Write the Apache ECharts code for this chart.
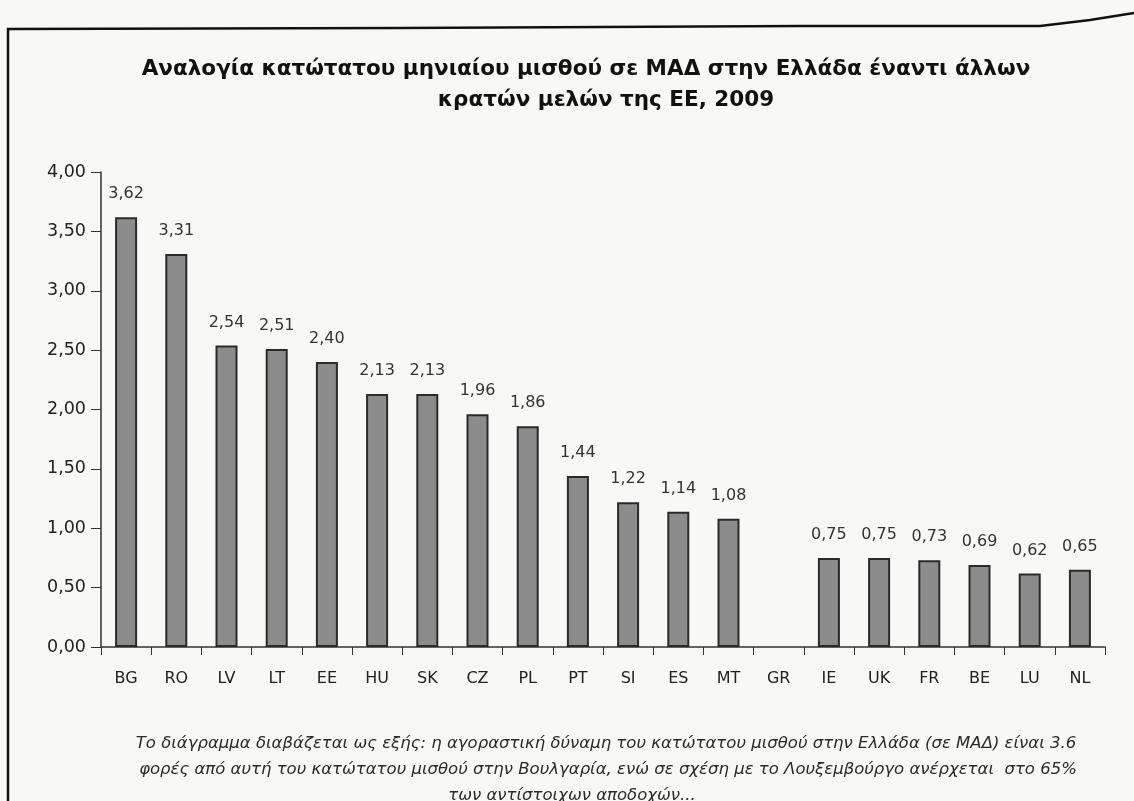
<!DOCTYPE html>
<html>
<head>
<meta charset="utf-8">
<script src="https://cdn.jsdelivr.net/npm/echarts@6/dist/echarts.min.js"></script>
<style>
  html, body { margin: 0; padding: 0; background: #f8f8f6; }
  #chart { width: 1134px; height: 801px; }
</style>
</head>
<body>
<div id="chart"></div>
<script>
// country codes, GR is the reference so it has no bar
var countries = ["BG", "RO", "LV", "LT", "EE", "HU", "SK", "CZ", "PL", "PT",
  "SI", "ES", "MT", "GR", "IE", "UK", "FR", "BE", "LU", "NL"];
var ratios = [3.62, 3.31, 2.54, 2.51, 2.40, 2.13, 2.13, 1.96, 1.86, 1.44,
  1.22, 1.14, 1.08, null, 0.75, 0.75, 0.73, 0.69, 0.62, 0.65];
var yTicks = [0, 0.5, 1, 1.5, 2, 2.5, 3, 3.5, 4];

var titleLines = [
  "Αναλογία κατώτατου μηνιαίου μισθού σε ΜΑΔ στην Ελλάδα έναντι άλλων",
  "κρατών μελών της ΕΕ, 2009"
];
var noteLines = [
  "Το διάγραμμα διαβάζεται ως εξής: η αγοραστική δύναμη του κατώτατου μισθού στην Ελλάδα (σε ΜΑΔ) είναι 3.6",
  "φορές από αυτή του κατώτατου μισθού στην Βουλγαρία, ενώ σε σχέση με το Λουξεμβούργο ανέρχεται  στο 65%",
  "των αντίστοιχων αποδοχών..."
];

var font = "'DejaVu Sans', Arial, sans-serif";

function comma(v) {
  return v.toFixed(2).replace(".", ",");
}

var myChart = echarts.init(document.getElementById("chart"));

// title lines (scan is slightly skewed, second line sits a bit right)
var titleX = [586, 606];
var titleY = [69, 100];
var titleGraphics = titleLines.map(function (line, i) {
  return {
    type: "text",
    x: titleX[i],
    y: titleY[i],
    style: {
      text: line,
      fill: "#111",
      font: "bold 21.5px 'DejaVu Sans', Arial, sans-serif",
      textAlign: "center",
      textVerticalAlign: "middle"
    }
  };
});

var noteX = [606, 608, 572];
var noteGraphics = noteLines.map(function (line, i) {
  return {
    type: "text",
    x: noteX[i],
    y: 744 + i * 26,
    style: {
      text: line,
      fill: "#2a2a2a",
      font: "italic 16.5px 'DejaVu Sans', Arial, sans-serif",
      textAlign: "center",
      textVerticalAlign: "middle"
    }
  };
});

myChart.setOption({
  backgroundColor: "#f8f8f6",
  animation: false,
  grid: {
    left: 101,
    right: 29,
    top: 172,
    bottom: 154
  },
  xAxis: {
    type: "category",
    data: countries,
    axisLine: { lineStyle: { color: "#333", width: 1.5 } },
    axisTick: { show: true, length: 8, lineStyle: { color: "#333" } },
    axisLabel: {
      margin: 24,
      fontSize: 16,
      color: "#222",
      fontFamily: font
    }
  },
  yAxis: {
    type: "value",
    min: yTicks[0],
    max: yTicks[yTicks.length - 1],
    interval: yTicks[1] - yTicks[0],
    splitLine: { show: false },
    axisLine: { show: true, lineStyle: { color: "#333", width: 1.5 } },
    axisTick: { show: true, length: 10, lineStyle: { color: "#333" } },
    axisLabel: {
      margin: 15,
      fontSize: 17.5,
      color: "#222",
      fontFamily: font,
      formatter: function (v) { return comma(v); }
    }
  },
  series: [
    {
      type: "bar",
      data: ratios,
      barWidth: 22,
      itemStyle: {
        color: "#8c8c8c",
        borderColor: "#2a2a2a",
        borderWidth: 2
      },
      label: {
        show: true,
        position: "top",
        distance: 15,
        fontSize: 16,
        color: "#333",
        fontFamily: font,
        formatter: function (p) { return comma(p.value); }
      }
    }
  ],
  graphic: [
    {
      // page frame of the scan
      type: "polyline",
      shape: { points: [[8, 801], [8, 29], [400, 28], [800, 26], [1040, 26], [1090, 20], [1134, 13]] },
      style: { stroke: "#111", lineWidth: 2.5, fill: null }
    }
  ].concat(titleGraphics, noteGraphics)
});

window.onresize = myChart.resize;
</script>
</body>
</html>
